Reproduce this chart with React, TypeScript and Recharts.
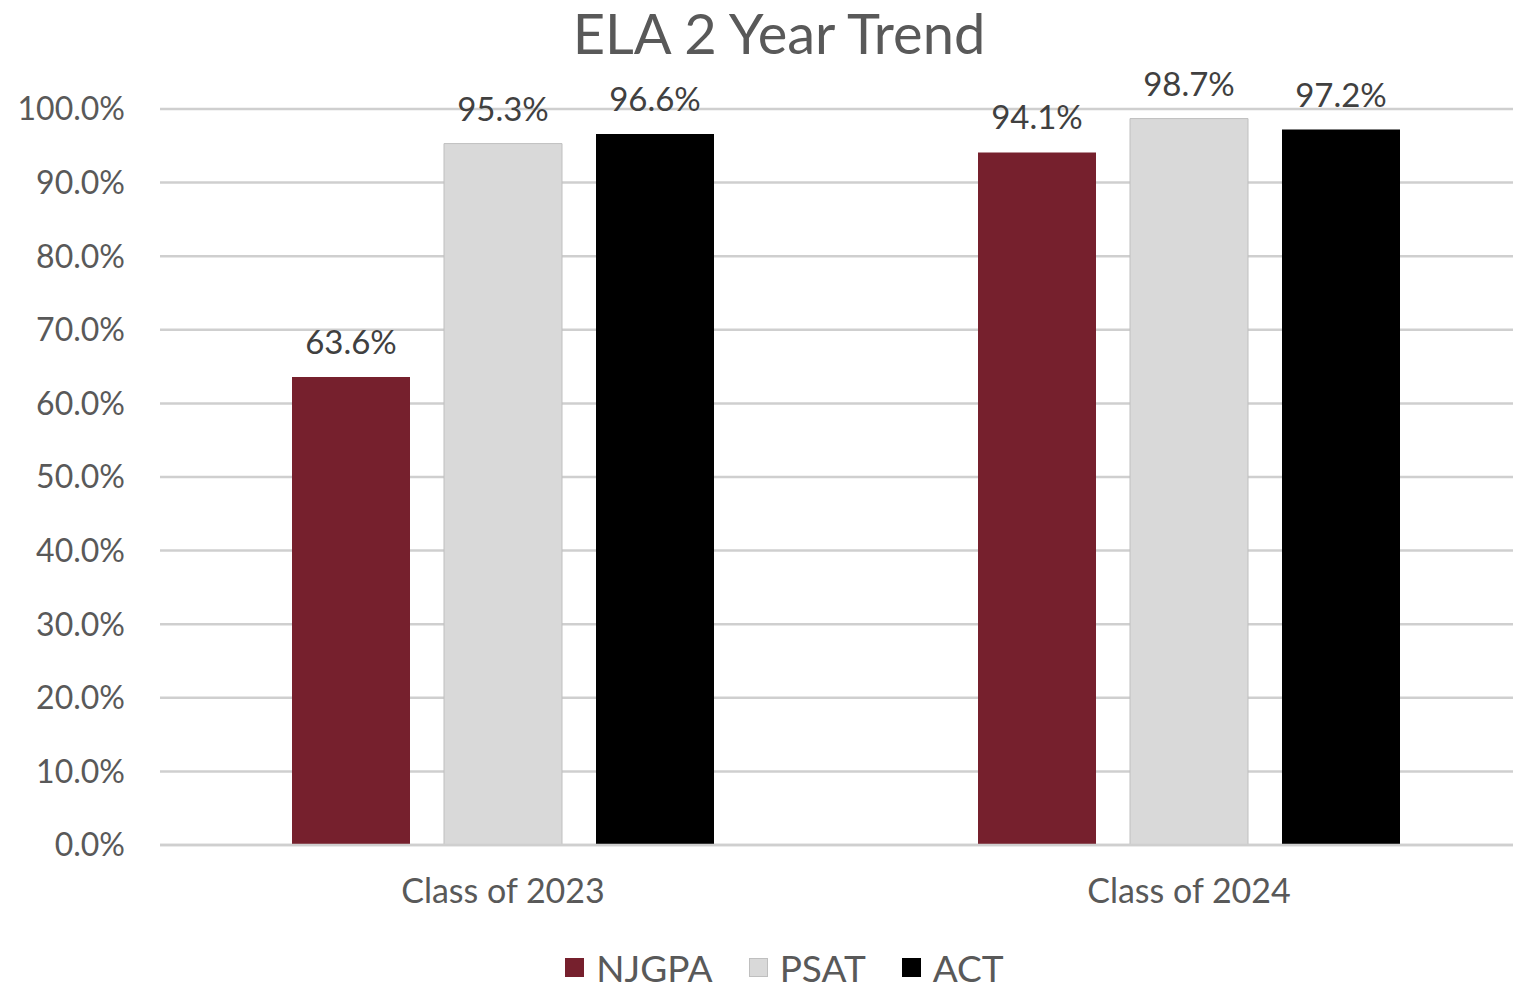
import { BarChart, Bar, XAxis, YAxis, CartesianGrid, Legend, LabelList } from 'recharts';

const CATEGORIES = ['Class of 2023', 'Class of 2024'];
const NJGPA = [63.6, 94.1];
const PSAT = [95.3, 98.7];
const ACT = [96.6, 97.2];
const Y_TICKS = [0, 10, 20, 30, 40, 50, 60, 70, 80, 90, 100];

const SERIES = [
  { key: 'NJGPA', color: '#76202d', stroke: 'none' },
  { key: 'PSAT', color: '#d9d9d9', stroke: '#bfbfbf' },
  { key: 'ACT', color: '#000000', stroke: 'none' },
] as const;

const data = CATEGORIES.map((name, i) => ({
  name,
  NJGPA: NJGPA[i],
  PSAT: PSAT[i],
  ACT: ACT[i],
}));

const FONT = 'Lato, "Open Sans", sans-serif';
const pct = (v: number) => `${v.toFixed(1)}%`;

function LegendContent() {
  return (
    <div
      style={{
        display: 'flex',
        justifyContent: 'center',
        alignItems: 'center',
        gap: 36,
        paddingTop: 20,
        paddingLeft: 37,
        fontFamily: FONT,
        fontSize: 37,
        color: '#595959',
      }}
    >
      {SERIES.map((s) => (
        <div key={s.key} style={{ display: 'flex', alignItems: 'center', gap: 12 }}>
          <span
            style={{
              width: 19,
              height: 19,
              background: s.color,
              border: s.stroke === 'none' ? 'none' : `1px solid ${s.stroke}`,
              boxSizing: 'border-box',
              display: 'inline-block',
            }}
          />
          <span>{s.key}</span>
        </div>
      ))}
    </div>
  );
}

export default function App() {
  return (
    <div
      style={{
        position: 'absolute',
        left: 0,
        top: 0,
        width: 1513,
        height: 989,
        background: '#fff',
        overflow: 'hidden',
      }}
    >
      <div
        style={{
          position: 'absolute',
          top: 0,
          left: 0,
          width: 1513,
          textAlign: 'center',
          fontFamily: FONT,
          fontSize: 56,
          color: '#595959',
          lineHeight: '66px',
          paddingLeft: 45,
          boxSizing: 'border-box',
        }}
      >
        ELA 2 Year Trend
      </div>
      <BarChart
        width={1533}
        height={989}
        data={data}
        margin={{ top: 109, right: 1, left: 0, bottom: 0 }}
        barGap={34}
        barCategoryGap={132}
      >
        <CartesianGrid vertical={false} stroke="#cfcfcf" strokeWidth={2.5} />
        <XAxis
          dataKey="name"
          tickLine={false}
          axisLine={{ stroke: '#cfcfcf', strokeWidth: 2.5 }}
          height={80}
          tickMargin={28}
          tick={{ fill: '#595959', fontSize: 34, fontFamily: FONT }}
        />
        <YAxis
          domain={[0, 100]}
          ticks={Y_TICKS}
          width={160}
          tickLine={false}
          axisLine={false}
          tickMargin={29}
          tickFormatter={pct}
          tick={{ fill: '#595959', fontSize: 32, fontFamily: FONT }}
        />
        <Legend verticalAlign="bottom" height={64} content={LegendContent} />
        {SERIES.map((s) => (
          <Bar
            key={s.key}
            dataKey={s.key}
            fill={s.color}
            stroke={s.stroke}
            strokeWidth={1}
            isAnimationActive={false}
          >
            <LabelList
              dataKey={s.key}
              position="top"
              offset={23}
              formatter={(v: number) => pct(v)}
              style={{ fill: '#404040', fontSize: 33, fontFamily: FONT }}
            />
          </Bar>
        ))}
      </BarChart>
    </div>
  );
}
